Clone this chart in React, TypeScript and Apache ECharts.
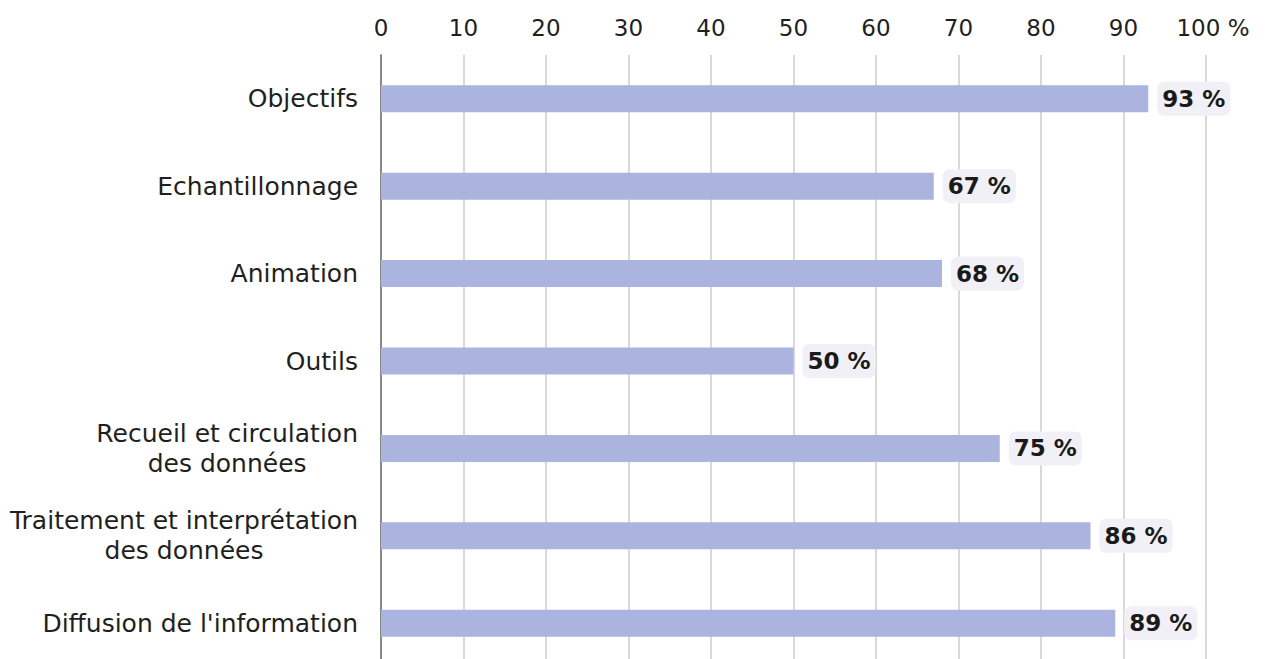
import React, { useEffect, useRef } from "react";
import * as echarts from "echarts";

const categories = [
  "Objectifs",
  "Echantillonnage",
  "Animation",
  "Outils",
  "Recueil et circulation\ndes données",
  "Traitement et interprétation\ndes données",
  "Diffusion de l'information",
];
const values = [93, 67, 68, 50, 75, 86, 89];
const xMin = 0;
const xMax = 100;
const xInterval = 10;

export default function App() {
  const ref = useRef<HTMLDivElement>(null);
  useEffect(() => {
    document.body.style.margin = "0";
    document.body.style.overflow = "hidden";
    const chart = echarts.init(ref.current!, null, { renderer: "svg" });
    const font = "DejaVu Sans";
    chart.setOption({
      animation: false,
      textStyle: { fontFamily: font },
      grid: { left: 381, right: 62, top: 55, bottom: 0, containLabel: false },
      xAxis: {
        type: "value",
        position: "top",
        min: xMin,
        max: xMax,
        interval: xInterval,
        axisLine: { show: false },
        axisTick: { show: false },
        splitLine: { lineStyle: { color: "#cccccc", width: 1.5 } },
        axisLabel: {
          fontFamily: font,
          fontSize: 23,
          color: "#1f1f1f",
          margin: 16,
          formatter: (v: number) => (v === 100 ? "{p| }100 %" : String(v)),
          rich: { p: { width: 14, fontSize: 23 } },
        },
      },
      yAxis: {
        type: "category",
        inverse: true,
        data: categories,
        axisLine: { show: true, lineStyle: { color: "#888888", width: 2 } },
        axisTick: { show: false },
        axisLabel: {
          fontFamily: font,
          fontSize: 25,
          color: "#1f1f1f",
          margin: 23,
          formatter: (v: string) =>
            v
              .split("\n")
              .map((l) => "{a|" + l + "}")
              .join("\n"),
          rich: {
            a: {
              fontFamily: font,
              fontSize: 25,
              color: "#1f1f1f",
              lineHeight: 30,
              align: "center",
            },
          },
        },
      },
      series: [
        {
          type: "bar",
          data: values,
          barWidth: 27,
          itemStyle: { color: "#aab4de" },
          label: {
            show: true,
            position: "right",
            distance: 9,
            formatter: "{c} %",
            fontFamily: font,
            fontSize: 23,
            fontWeight: "bold",
            color: "#1a1a1a",
            backgroundColor: "#f0f0f6",
            borderRadius: 7,
            padding: [6, 5, 5, 5],
          },
        },
      ],
    });
    return () => chart.dispose();
  }, []);
  return <div ref={ref} style={{ width: 1268, height: 667 }} />;
}
